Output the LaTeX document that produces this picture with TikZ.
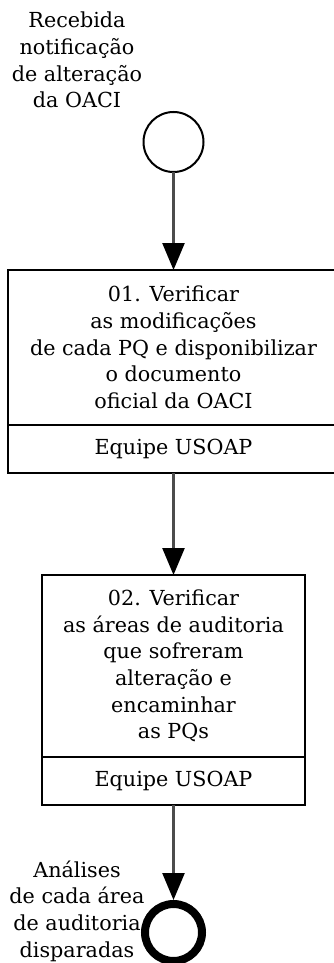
\documentclass[tikz,border=0pt]{standalone}
\usepackage{fontspec}
\setmainfont{DejaVu Serif}
\usetikzlibrary{arrows.meta,positioning}

\begin{document}
\begin{tikzpicture}[
    x=1pt, y=1pt,
    node distance=0pt,
    txt/.style={font=\fontsize{20.7}{26.7}\selectfont, align=center, text=black},
    startev/.style={circle, draw, line width=2pt, minimum size=60pt, inner sep=0pt, outer sep=0pt},
    endev/.style={circle, draw, line width=8pt, minimum size=57pt, inner sep=0pt, outer sep=4pt},
    evlabel/.style={txt, inner sep=0pt},
    task/.style={txt, rectangle, draw, line width=2pt, inner sep=0pt, outer sep=0pt},
    role/.style={task, minimum height=48pt},
    flow/.style={draw=black!70, line width=2.5pt, -{Triangle[length=27pt,width=22pt,black]}}
]
\useasboundingbox (0,0) rectangle (333,-963);

% Start event
\node[startev] (start) at (173.5,-142) {};
\node[evlabel] (startlbl) at (77,-60) {Recebida\\notificação\\de alteração\\da OACI};

% Task 01
\node[task, minimum width=332pt, minimum height=155pt, below=98pt of start] (task1) {01. Verificar\\as modificações\\de cada PQ e disponibilizar\\o documento\\oficial da OACI};
\node[role, minimum width=332pt, below=0pt of task1] (role1) {Equipe USOAP};

% Task 02
\node[task, minimum width=263pt, minimum height=182pt, below=102pt of role1] (task2) {02. Verificar\\as áreas de auditoria\\que sofreram\\alteração e\\encaminhar\\as PQs};
\node[role, minimum width=263pt, below=0pt of task2] (role2) {Equipe USOAP};

% End event
\node[endev, below=95pt of role2] (end) {};
\node[evlabel] (endlbl) at (77,-911) {Análises\\de cada área\\de auditoria\\disparadas};

% Flows
\foreach \source/\dest in {start/task1, role1/task2, role2/end} {
    \draw[flow] (\source) -- (\dest);
}

\end{tikzpicture}
\end{document}
